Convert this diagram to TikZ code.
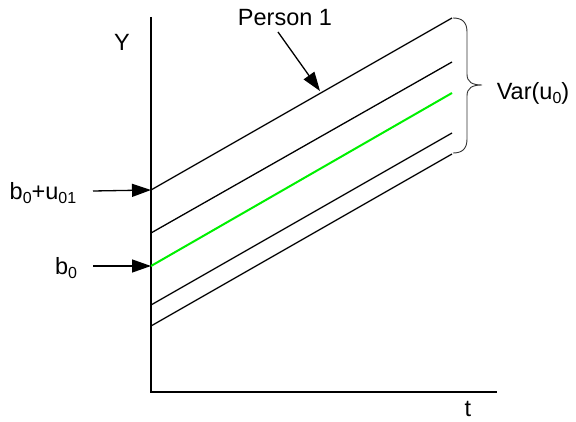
\documentclass[tikz,border=0pt]{standalone}
\usepackage{fontspec}
\setmainfont{Liberation Sans}
\usetikzlibrary{arrows.meta}
\newcommand{\sbs}[1]{\raisebox{-0.35ex}{\fontsize{16}{16}\selectfont #1}}
\begin{document}
\begin{tikzpicture}[x=1pt,y=-1pt,
  lbl/.style={font=\fontsize{23.5}{27}\selectfont, inner sep=0pt},
  ln/.style={line width=1.3pt, black},
  arr/.style={line width=1.3pt, -{Triangle[length=19pt,width=13pt]}}]
\useasboundingbox (0,0) rectangle (576,422);
% axes
\coordinate (ytop) at (151,17);
\coordinate (orig) at (151,392);
\coordinate (xend) at (497,392);
\draw[ln] (ytop) -- (orig) -- (xend);
\node[lbl] (Y) at (122,42) {Y};
\node[lbl] (t) at (468,409) {t};
% lines
\coordinate (a1) at (151,190); \coordinate (a2) at (452,18);
\coordinate (b1) at (151,233); \coordinate (b2) at (452,62);
\coordinate (g1) at (151,266); \coordinate (g2) at (452,93);
\coordinate (d1) at (151,305); \coordinate (d2) at (452,133);
\coordinate (e1) at (151,326); \coordinate (e2) at (452,154);
\draw[ln] (a1) -- (a2);
\draw[ln] (b1) -- (b2);
\draw[line width=2pt, color={rgb,255:red,0;green,240;blue,0}] (g1) -- (g2);
\draw[ln] (d1) -- (d2);
\draw[ln] (e1) -- (e2);
% labels and arrows
\node[lbl] (bu) at (43,193) {b\sbs{0}+u\sbs{01}};
\coordinate (bus) at (93,191);
\draw[arr] (bus) -- (a1);
\node[lbl] (b0) at (66,268) {b\sbs{0}};
\coordinate (b0s) at (93,266);
\draw[arr] (b0s) -- (g1);
\node[lbl] (p1) at (285,18) {Person 1};
\coordinate (p1s) at (278,32);
\coordinate (p1t) at (320,91);
\draw[arr] (p1s) -- (p1t);
% brace
\draw[line width=0.9pt, black!80] (453,18) .. controls (462,18) and (467,22) .. (467,32) -- (467,74)
  .. controls (467,82) and (472,85) .. (482,85)
  .. controls (472,85) and (467,88) .. (467,96) -- (467,139)
  .. controls (467,149) and (462,153) .. (453,153);
\node[lbl] (var) at (533,93) {Var(u\sbs{0})};
\end{tikzpicture}
\end{document}
